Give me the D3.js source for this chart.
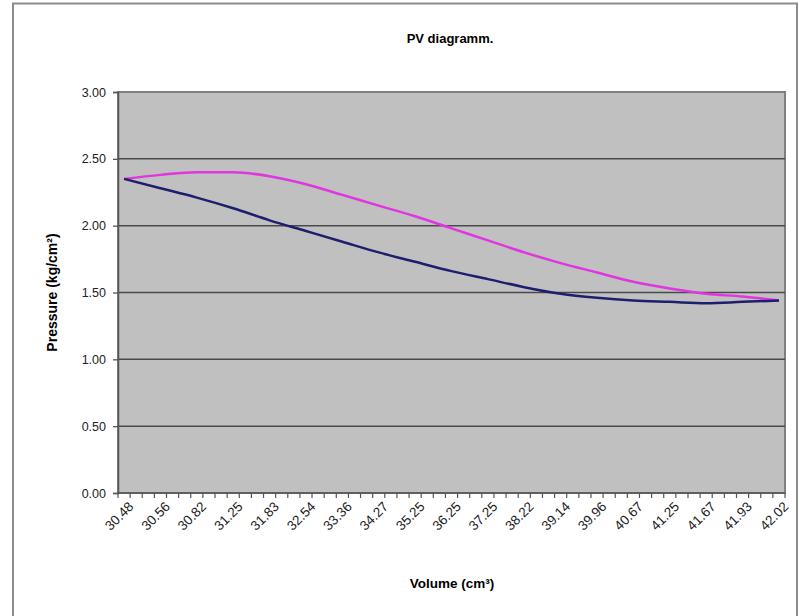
<!DOCTYPE html>
<html>
<head>
<meta charset="utf-8">
<script src="https://cdn.jsdelivr.net/npm/d3@7"></script>
<style>
    body { margin: 0; background: #fff; }
    svg text { font-family: "Liberation Sans", Arial, sans-serif; }
</style>
</head>
<body>
<div id="chart"></div>
<script>
/*jslint browser: true*/

// volume labels shown on the category axis (every 3rd category)
var volumeLabels = ['30.48', '30.56', '30.82', '31.25', '31.83', '32.54', '33.36', '34.27', '35.25',
    '36.25', '37.25', '38.22', '39.14', '39.96', '40.67', '41.25', '41.67', '41.93', '42.02'];
var categoryCount = 55;
var labelStep = 3;

// pressure read at each labelled volume
var pressureLower = [2.35, 2.28, 2.21, 2.13, 2.04, 1.96, 1.88, 1.80, 1.73, 1.66,
    1.60, 1.54, 1.49, 1.46, 1.44, 1.43, 1.42, 1.43, 1.44];
var pressureUpper = [2.35, 2.38, 2.40, 2.40, 2.37, 2.31, 2.23, 2.15, 2.07, 1.98,
    1.89, 1.80, 1.72, 1.65, 1.58, 1.53, 1.49, 1.47, 1.44];

var yTicks = [0, 0.5, 1, 1.5, 2, 2.5, 3];

(function (d3) {
    'use strict';

    var width = 806, height = 616,
        plot = {left: 118, right: 785, top: 92, bottom: 493};

    var svg = d3.select('#chart').append('svg')
        .attr('width', width)
        .attr('height', height);

    // chart area frame
    svg.append('rect')
        .attr('x', 13).attr('y', 3.5)
        .attr('width', 784).attr('height', 640)
        .style('fill', '#fff')
        .style('stroke', '#8c8c8c')
        .style('stroke-width', 2);

    var x = d3.scaleBand()
        .domain(d3.range(categoryCount))
        .range([plot.left, plot.right]);

    var y = d3.scaleLinear()
        .domain([0, 3])
        .range([plot.bottom, plot.top]);

    function px(i) {
        return x(i * labelStep) + x.bandwidth() / 2;
    }

    svg.append('rect')
        .attr('x', plot.left).attr('y', plot.top)
        .attr('width', plot.right - plot.left)
        .attr('height', plot.bottom - plot.top)
        .style('fill', '#c0c0c0')
        .style('stroke', '#808080')
        .style('stroke-width', 2);

    // gridlines
    svg.append('g').selectAll('line')
        .data(yTicks.slice(1, -1))
        .enter().append('line')
        .attr('x1', plot.left).attr('x2', plot.right)
        .attr('y1', function (d) { return y(d); })
        .attr('y2', function (d) { return y(d); })
        .style('stroke', '#4a4a4a')
        .style('stroke-width', 1.5);

    // y axis
    var yAxis = svg.append('g')
        .attr('transform', 'translate(' + plot.left + ',0)')
        .call(d3.axisLeft(y).tickValues(yTicks).tickSize(5).tickPadding(7)
            .tickFormat(d3.format('.2f')));
    yAxis.select('.domain').style('stroke', '#555').style('stroke-width', 1.5);
    yAxis.selectAll('.tick line').style('stroke', '#555').style('stroke-width', 1.3);
    yAxis.selectAll('text').style('font-size', '12.5px').style('fill', '#222');

    // x axis: tick marks between categories
    var xAxis = svg.append('g');
    xAxis.append('line')
        .attr('x1', plot.left).attr('x2', plot.right)
        .attr('y1', plot.bottom).attr('y2', plot.bottom)
        .style('stroke', '#555').style('stroke-width', 1.5);
    xAxis.selectAll('.tk')
        .data(d3.range(categoryCount + 1))
        .enter().append('line')
        .attr('class', 'tk')
        .attr('x1', function (d) { return d < categoryCount ? x(d) : plot.right; })
        .attr('x2', function (d) { return d < categoryCount ? x(d) : plot.right; })
        .attr('y1', plot.bottom).attr('y2', plot.bottom + 5)
        .style('stroke', '#555').style('stroke-width', 1.2);
    xAxis.selectAll('.lbl')
        .data(volumeLabels)
        .enter().append('text')
        .attr('class', 'lbl')
        .attr('text-anchor', 'end')
        .attr('transform', function (d, i) {
            return 'translate(' + (px(i) + 7) + ',' + (plot.bottom + 11) + ') rotate(-45)';
        })
        .attr('dy', '0.35em')
        .style('font-size', '13.5px')
        .style('fill', '#222')
        .text(function (d) { return d; });

    // series
    var line = d3.line()
        .x(function (d, i) { return px(i); })
        .y(function (d) { return y(d); })
        .curve(d3.curveMonotoneX);

    svg.append('path')
        .datum(pressureUpper)
        .attr('d', line)
        .style('fill', 'none')
        .style('stroke', '#e035e0')
        .style('stroke-width', 2.5);

    svg.append('path')
        .datum(pressureLower)
        .attr('d', line)
        .style('fill', 'none')
        .style('stroke', '#1e1e6e')
        .style('stroke-width', 2.5);

    // titles
    svg.append('text')
        .attr('x', 450).attr('y', 43)
        .attr('text-anchor', 'middle')
        .style('font-size', '13px').style('font-weight', 'bold')
        .text('PV diagramm.');

    svg.append('text')
        .attr('x', 452).attr('y', 588)
        .attr('text-anchor', 'middle')
        .style('font-size', '13.5px').style('font-weight', 'bold')
        .text('Volume (cm³)');

    svg.append('text')
        .attr('transform', 'translate(57,' + ((plot.top + plot.bottom) / 2) + ') rotate(-90)')
        .attr('text-anchor', 'middle')
        .style('font-size', '14px').style('font-weight', 'bold')
        .text('Pressure (kg/cm²)');

}(window.d3));
</script>
</body>
</html>
